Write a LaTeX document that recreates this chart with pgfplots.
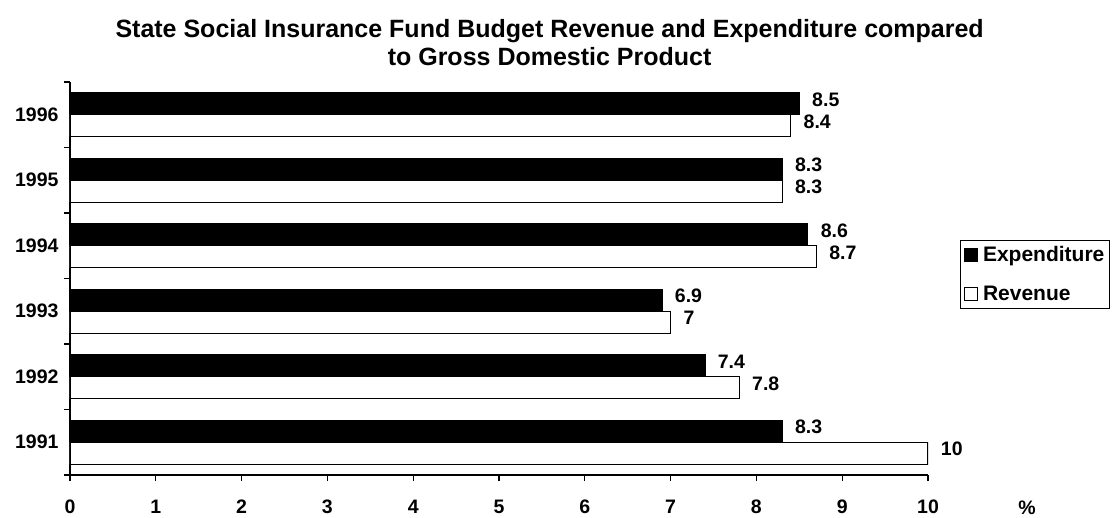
\documentclass[border=0pt]{standalone}
\usepackage{pgfplots}
\pgfplotsset{compat=1.18}
\usepackage{fontspec}
\setmainfont{Liberation Sans}
\begin{document}
\begin{tikzpicture}
\path[use as bounding box] (-70pt,-42pt) rectangle (1049pt,475pt);
\begin{axis}[
  at={(0pt,0pt)}, anchor=south west,
  scale only axis, width=858pt, height=393pt,
  xbar, bar width=22pt,
  xmin=0, xmax=10, ymin=-0.5, ymax=5.5,
  axis lines*=left,
  axis line style={-, line width=1.2pt},
  every tick/.style={black, line width=1.2pt},
  tick align=outside,
  major tick length=6pt, minor tick length=6pt,
  xtick={0,...,10},
  ytick={0,...,5},
  yticklabels={1991,1992,1993,1994,1995,1996},
  major y tick style={draw=none},
  minor ytick={-0.5,0.5,1.5,2.5,3.5,4.5,5.5},
  /pgf/number format/assume math mode=true,
  tick label style={font=\fontsize{19.5}{22}\selectfont\bfseries},
  xticklabel style={anchor=center, yshift=-26pt},
  yticklabel style={xshift=-2pt},
  xlabel={\%},
  xlabel style={at={(axis description cs:1.1154,0)}, anchor=center, yshift=-33pt, font=\fontsize{19.5}{22}\selectfont\bfseries},
  title={State Social Insurance Fund Budget Revenue and Expenditure compared\\to Gross Domestic Product},
  title style={at={(axis description cs:0.559,1)}, anchor=north, yshift=57pt, inner sep=0pt, align=center, font=\fontsize{25}{28}\selectfont\bfseries},
  nodes near coords,
  nodes near coords align={horizontal},
  every node near coord/.append style={font=\fontsize{19.5}{22}\selectfont\bfseries, anchor=west, xshift=9pt, yshift=4pt},
  legend style={at={(1.212,0.598)}, anchor=north east, draw=black, line width=1pt,
    font=\fontsize{21}{24}\selectfont\bfseries, cells={anchor=west}, row sep=19pt,
    inner xsep=3pt, inner ysep=4pt},
  legend image code/.code={\draw[#1, line width=1pt] (0pt,-6.5pt) rectangle (13pt,6.5pt); \path (16pt,0pt);},
]
\addplot[fill=black, draw=black, line width=1.2pt, bar shift=11pt] coordinates {
  (8.3,0) (7.4,1) (6.9,2) (8.6,3) (8.3,4) (8.5,5)};
\addlegendentry{Expenditure}
\addplot[fill=white, draw=black, line width=1.2pt, bar shift=-11pt] coordinates {
  (10,0) (7.8,1) (7,2) (8.7,3) (8.3,4) (8.4,5)};
\addlegendentry{Revenue}
\end{axis}
\end{tikzpicture}
\end{document}
